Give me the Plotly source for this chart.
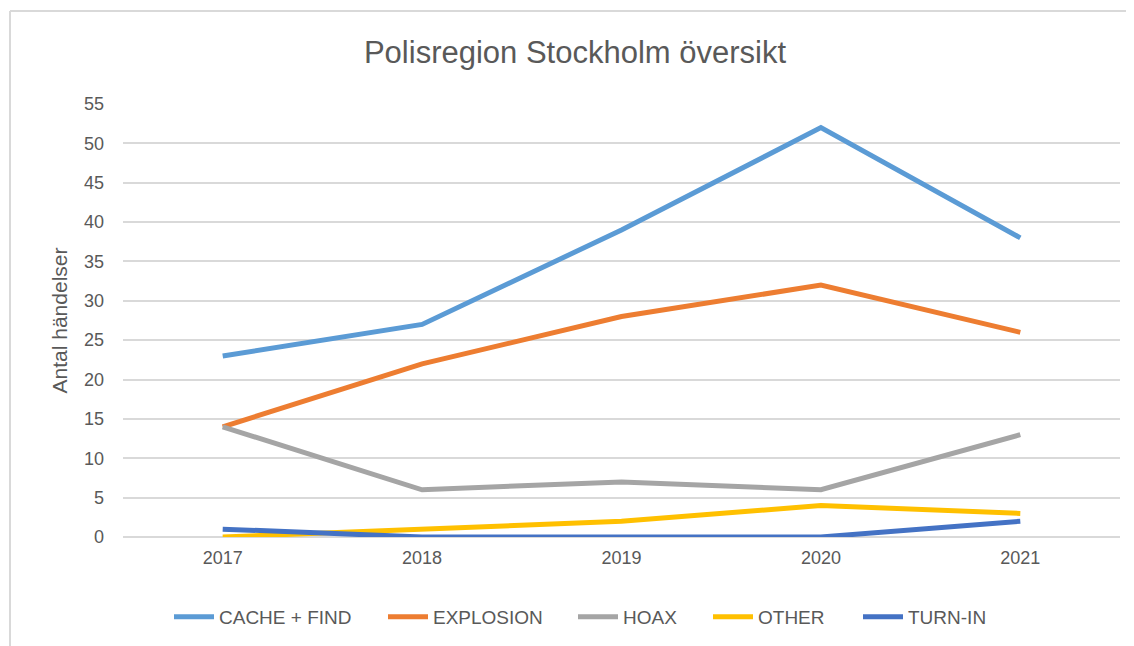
import plotly.graph_objects as go

years = ["2017", "2018", "2019", "2020", "2021"]
cache_find = [23, 27, 39, 52, 38]
explosion = [14, 22, 28, 32, 26]
hoax = [14, 6, 7, 6, 13]
other = [0, 1, 2, 4, 3]
turn_in = [1, 0, 0, 0, 2]

series = [
    ("CACHE + FIND", cache_find, "#5B9BD5"),
    ("EXPLOSION", explosion, "#ED7D31"),
    ("HOAX", hoax, "#A5A5A5"),
    ("OTHER", other, "#FFC000"),
    ("TURN-IN", turn_in, "#4472C4"),
]

FONT = "Liberation Sans, Arial, sans-serif"
GREY = "#595959"

# page is offset by 8px body margin; compensate
OFF = 8
W, H = 1134, 646
l, t = 123 - OFF, 104 - OFF
r = W - (1120 - OFF)
b = H - (537 - OFF)
pw, ph = W - l - r, H - t - b

# screen x where each legend entry's line sample starts in the reference
legend_starts = [169, 383, 573, 708, 858]

fig = go.Figure()
legend_layouts = {}
for i, (name, vals, col) in enumerate(series):
    key = "legend" if i == 0 else f"legend{i + 1}"
    fig.add_trace(go.Scatter(x=years, y=vals, name=name, mode="lines",
                             line=dict(color=col, width=5), legend=key))
    legend_layouts[key] = dict(
        orientation="h", x=(legend_starts[i] - OFF - l) / pw, xanchor="left",
        y=-(617 - 537) / ph, yanchor="middle",
        font=dict(size=19, color=GREY, family=FONT),
        itemwidth=40, bgcolor="rgba(0,0,0,0)")

fig.update_layout(
    width=W, height=H,
    margin=dict(l=l, r=r, t=t, b=b),
    paper_bgcolor="white", plot_bgcolor="white",
    font=dict(family=FONT, color=GREY, size=18),
    title=dict(text="Polisregion Stockholm översikt", x=0.5, xanchor="center",
               y=1 - (52 - OFF) / H, yanchor="middle",
               font=dict(family=FONT, size=31, color=GREY)),
    xaxis=dict(type="category", range=[-0.5, 4.5], showgrid=False,
               showline=False, ticks="", zeroline=False,
               ticklabelstandoff=8,
               tickfont=dict(size=18, color=GREY)),
    yaxis=dict(range=[0, 55], dtick=5, showgrid=True, gridcolor="#D9D9D9",
               gridwidth=2, zeroline=True, zerolinecolor="#D9D9D9", zerolinewidth=2,
               showline=False, ticks="", ticklabelstandoff=18,
               tickfont=dict(size=18, color=GREY),
               title=dict(text="Antal händelser", font=dict(size=21, color=GREY), standoff=10)),
    showlegend=True,
    **legend_layouts,
)

# chart-area border (top and left edges visible)
top_y = 1 + (t - (11 - OFF)) / ph
left_x = ((10 - OFF) - l) / pw
fig.add_shape(type="line", xref="paper", yref="paper",
              x0=left_x, x1=(W + 5 - l) / pw, y0=top_y, y1=top_y,
              line=dict(color="#D9D9D9", width=2), layer="below")
fig.add_shape(type="line", xref="paper", yref="paper",
              x0=left_x, x1=left_x, y0=top_y, y1=-(b + 5) / ph,
              line=dict(color="#D9D9D9", width=2), layer="below")

fig.write_html("out.html")
